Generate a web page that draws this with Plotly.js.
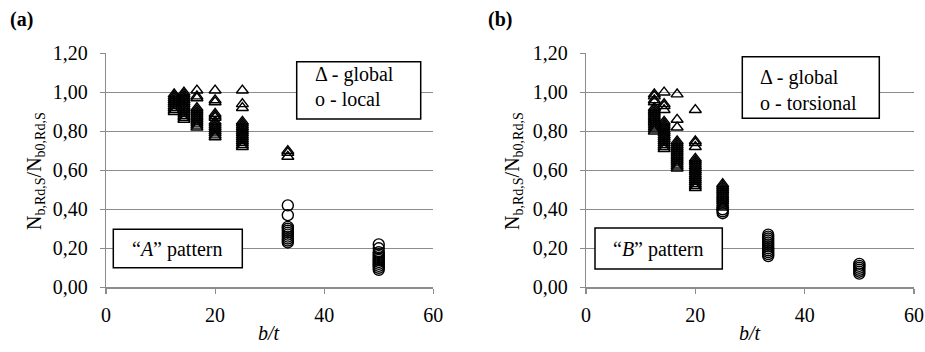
<!DOCTYPE html>
<html><head><meta charset="utf-8">
<script src="https://cdn.plot.ly/plotly-3.0.1.min.js"></script>
<style>html,body{margin:0;padding:0;background:#fff}#c{width:925px;height:352px}</style>
</head><body><div id="c"></div>
<script>
// b/t values (columns)
const bt = [12.5, 14.29, 16.67, 20, 25, 33.33, 50];
// Panel (a) "A" pattern — global (triangles) per column
const aGlobal = [
  [0.99,0.98,0.97,0.96,0.95,0.94,0.93,0.92,0.91,0.90],
  [1.00,0.99,0.98,0.97,0.96,0.95,0.94,0.93,0.92,0.91,0.90,0.89,0.88,0.87,0.86],
  [1.01,0.98,0.97,0.92,0.91,0.90,0.89,0.88,0.87,0.86,0.85,0.84,0.83,0.82],
  [1.01,0.96,0.95,0.89,0.88,0.87,0.85,0.84,0.83,0.82,0.81,0.80,0.79,0.78,0.77],
  [1.01,0.94,0.92,0.85,0.84,0.83,0.82,0.81,0.80,0.79,0.78,0.77,0.76,0.75,0.74,0.73,0.72],
  [0.70,0.69,0.67],
  []
];
// Panel (a) — local (circles)
const aLocal = [
  [],[],[],[],[],
  [0.42,0.37,0.31,0.30,0.29,0.28,0.27,0.26,0.25,0.24,0.23],
  [0.22,0.20,0.18,0.17,0.16,0.15,0.14,0.13,0.12,0.11,0.10,0.09]
];
// Panel (b) "B" pattern — global (triangles)
const bGlobal = [
  [0.99,0.98,0.96,0.95,0.92,0.91,0.90,0.89,0.88,0.87,0.86,0.85,0.84,0.83,0.82,0.81,0.80],
  [1.00,0.94,0.93,0.91,0.85,0.84,0.83,0.82,0.81,0.80,0.79,0.78,0.77,0.76,0.75,0.74,0.73,0.72,0.71],
  [0.99,0.86,0.82,0.75,0.74,0.73,0.72,0.71,0.70,0.69,0.68,0.67,0.66,0.65,0.64,0.63,0.62,0.61],
  [0.91,0.75,0.74,0.72,0.66,0.65,0.64,0.63,0.62,0.61,0.60,0.59,0.58,0.57,0.56,0.55,0.54,0.53,0.52,0.51],
  [0.53,0.52,0.51,0.50,0.49,0.48,0.47,0.46,0.45,0.44,0.43,0.42,0.41],
  [],
  []
];
// Panel (b) — torsional (circles)
const bTorsional = [
  [],[],[],[],
  [0.40,0.39,0.38],
  [0.27,0.26,0.25,0.24,0.23,0.22,0.21,0.20,0.19,0.18,0.17,0.16],
  [0.12,0.11,0.10,0.09,0.08,0.07]
];
const yTicks = [0,0.2,0.4,0.6,0.8,1.0,1.2];
const xTicks = [0,20,40,60];

function flat(cols){const x=[],y=[];cols.forEach((c,i)=>c.forEach(v=>{x.push(bt[i]);y.push(v);}));return {x,y};}

const FONT = 'Liberation Serif';
const tri = {symbol:'triangle-up-open', size:10.5, color:'#000', line:{width:1.4,color:'#000'}};
const cir = {symbol:'circle-open', size:11, color:'#000', line:{width:1.4,color:'#000'}};

const A1=flat(aGlobal), A2=flat(aLocal), B1=flat(bGlobal), B2=flat(bTorsional);
const data = [
  {x:A1.x,y:A1.y,type:'scatter',mode:'markers',marker:tri,xaxis:'x',yaxis:'y',name:'global'},
  {x:A2.x,y:A2.y,type:'scatter',mode:'markers',marker:cir,xaxis:'x',yaxis:'y',name:'local'},
  {x:B1.x,y:B1.y,type:'scatter',mode:'markers',marker:tri,xaxis:'x2',yaxis:'y2',name:'global'},
  {x:B2.x,y:B2.y,type:'scatter',mode:'markers',marker:cir,xaxis:'x2',yaxis:'y2',name:'torsional'}
];

const W=925,H=352;
const px=v=>v/W, py=v=>1-v/H;
const yDom=[py(287.3),py(53.3)];
function xa(dom,anchor){return {domain:dom,anchor:anchor,range:[0,60],tickvals:xTicks,ticks:'outside',ticklen:5,tickcolor:'#8c8c8c',tickwidth:1.2,
  showline:true,linecolor:'#8c8c8c',linewidth:1.3,showgrid:false,zeroline:false,tickfont:{family:FONT,size:20,color:'#000'},ticklabelstandoff:4,fixedrange:true};}
function ya(anchor){return {domain:yDom,anchor:anchor,range:[0,1.2],tickvals:yTicks,tickformat:'.2f',ticks:'outside',ticklen:5,tickcolor:'#8c8c8c',tickwidth:1.2,
  showline:true,linecolor:'#8c8c8c',linewidth:1.3,showgrid:true,gridcolor:'#8c8c8c',gridwidth:1.3,zeroline:false,
  tickfont:{family:FONT,size:20,color:'#000'},ticklabelstandoff:8,fixedrange:true};}

const boxes=[[296.7,61.7,420.7,119],[113.3,229.3,242.3,267.7],[742.3,56.7,879.3,118.3],[595,228,722.3,269]];
const shapes=boxes.map(b=>({type:'rect',xref:'paper',yref:'paper',x0:px(b[0]),x1:px(b[2]),y0:py(b[3]),y1:py(b[1]),line:{color:'#000',width:1.5},fillcolor:'#fff',layer:'above'}));

function ann(text,x,y,opts){return Object.assign({text:text,xref:'paper',yref:'paper',x:px(x),y:py(y),showarrow:false,xanchor:'left',yanchor:'middle',font:{family:FONT,size:20,color:'#000'}},opts||{});}
const ytitle='N<sub>b,Rd,S</sub>/N<sub>b0,Rd,S</sub>';
const annotations=[
  ann('<b>(a)</b>',8,20),
  ann('<b>(b)</b>',486,20),
  ann('Δ - global',313,74),
  ann('o - local',313,99),
  ann('Δ - global',757.7,77.7),
  ann('o - torsional',757.7,102.7),
  ann('“<i>A</i>” pattern',177.8,249,{xanchor:'center'}),
  ann('“<i>B</i>” pattern',658.6,249,{xanchor:'center'}),
  ann(ytitle,35,171,{xanchor:'center',textangle:-90}),
  ann(ytitle,513,171,{xanchor:'center',textangle:-90}),
  ann('<i>b/t</i>',269,333,{xanchor:'center'}),
  ann('<i>b/t</i>',750,333,{xanchor:'center'})
];

const layout={width:W,height:H,margin:{l:0,r:0,t:0,b:0},paper_bgcolor:'#fff',plot_bgcolor:'rgba(0,0,0,0)',showlegend:false,
  separators:',.',font:{family:FONT,color:'#000'},
  xaxis:xa([px(106),px(433.3)],'y'),yaxis:ya('x'),
  xaxis2:xa([px(586),px(914)],'y2'),yaxis2:ya('x2'),
  shapes:shapes,annotations:annotations};
Plotly.newPlot('c',data,layout,{displayModeBar:false,staticPlot:true});
</script></body></html>
